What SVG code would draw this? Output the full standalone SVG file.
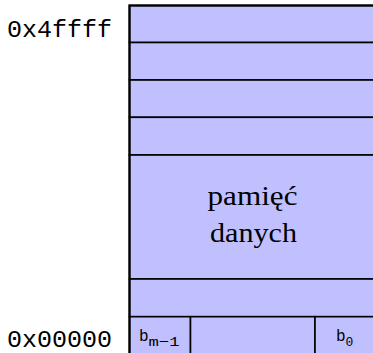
<svg xmlns="http://www.w3.org/2000/svg" width="373" height="353" viewBox="0 0 373 353">
<style>
.cell{fill:#c0c0ff;stroke:#000;stroke-width:1.6}
.outer{fill:none;stroke:#000;stroke-width:2.2}
.mono{font-family:"Liberation Mono","DejaVu Sans Mono",monospace;fill:#000}
.serif{font-family:"Liberation Serif","DejaVu Serif",serif;fill:#000;text-anchor:middle}
</style>
<g id="memory">
<rect class="cell" x="129.5" y="5.5" width="250" height="37"/>
<rect class="cell" x="129.5" y="42.5" width="250" height="37.5"/>
<rect class="cell" x="129.5" y="80" width="250" height="37.3"/>
<rect class="cell" x="129.5" y="117.3" width="250" height="37.7"/>
<rect class="cell" x="129.5" y="155" width="250" height="124"/>
<rect class="cell" x="129.5" y="279" width="250" height="37.7"/>
<rect class="cell" x="129.5" y="316.7" width="61" height="45"/>
<rect class="cell" x="190.5" y="316.7" width="124.5" height="45"/>
<rect class="cell" x="315" y="316.7" width="64.5" height="45"/>
<rect class="outer" x="129.5" y="5.5" width="250" height="356"/>
<text class="serif" x="252.5" y="205" font-size="28" textLength="90" lengthAdjust="spacingAndGlyphs">pamięć</text>
<text class="serif" x="253.5" y="242" font-size="28" textLength="87" lengthAdjust="spacingAndGlyphs">danych</text>
<text class="mono" x="139" y="341" font-size="16">b</text>
<text class="mono" x="148.5" y="346" font-size="13" textLength="31" lengthAdjust="spacingAndGlyphs">m−1</text>
<text class="mono" x="336" y="341" font-size="16">b</text>
<text class="mono" x="345.5" y="345.5" font-size="13">0</text>
</g>
<g id="labels">
<text class="mono" x="7" y="36.5" font-size="23" textLength="105" lengthAdjust="spacingAndGlyphs">0x4ffff</text>
<text class="mono" x="7" y="346.5" font-size="23" textLength="105" lengthAdjust="spacingAndGlyphs">0x00000</text>
</g>
<g id="connectors"/>
</svg>
